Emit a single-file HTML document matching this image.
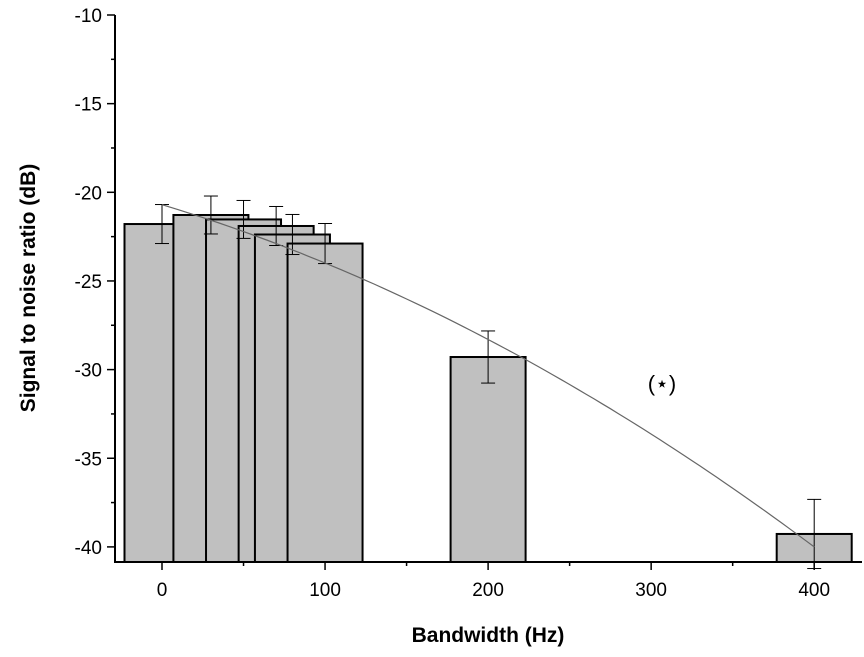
<!DOCTYPE html>
<html><head><meta charset="utf-8"><style>
body{margin:0;background:#fff}
text{font-family:"Liberation Sans","DejaVu Sans",sans-serif}
</style></head><body>
<svg id="chart" width="864" height="652" xmlns="http://www.w3.org/2000/svg"></svg>
<script>
const categories=[0,30,50,70,80,100,200,400];
const snrValues=[-21.79,-21.28,-21.53,-21.9,-22.38,-22.89,-29.29,-39.27];
const errValues=[1.1,1.07,1.07,1.1,1.13,1.13,1.47,1.95];
const yTicks=[-10,-15,-20,-25,-30,-35,-40];
const xTicks=[0,100,200,300,400];
const fitCoef=[-20.7,-0.02775,-0.00005125];
const NS='http://www.w3.org/2000/svg';
const svg=document.getElementById('chart');
const X0=115,X1=862,Y0=15,Y1=562;
const xs=v=>162+(v-0)*1.6305;
const ys=v=>15+(-10-v)*17.73;
const barW=46*1.6305;
function mk(t,a,p){const e=document.createElementNS(NS,t);for(const k in a)e.setAttribute(k,a[k]);(p||svg).appendChild(e);return e;}
const gB=mk('g',{});
categories.forEach((c,i)=>{
 const r=mk('rect',{x:xs(c)-barW/2,y:ys(snrValues[i]),width:barW,height:Y1-ys(snrValues[i]),fill:'#c0c0c0',stroke:'#000','stroke-width':2},gB);
 
 
});
const gE=mk('g',{stroke:'#000','stroke-width':1});

categories.forEach((c,i)=>{
 const x=xs(c),t=ys(snrValues[i]+errValues[i]),b=ys(snrValues[i]-errValues[i]);
 mk('line',{x1:x,x2:x,y1:t,y2:b},gE);mk('line',{x1:x-7,x2:x+7,y1:t,y2:t},gE);mk('line',{x1:x-7,x2:x+7,y1:b,y2:b},gE);
});
let d='';for(let h=0;h<=400;h+=5){const v=fitCoef[0]+fitCoef[1]*h+fitCoef[2]*h*h;d+=(h?'L':'M')+xs(h).toFixed(1)+','+ys(v).toFixed(1);}
const fit=mk('path',{d:d,fill:'none',stroke:'#666','stroke-width':1.2});

const ax=mk('path',{d:`M${X0},${Y0}V${Y1}H${X1}`,fill:'none',stroke:'#000','stroke-width':2});

yTicks.forEach(v=>{const y=ys(v);mk('line',{x1:X0-8,x2:X0,y1:y,y2:y,stroke:'#000','stroke-width':1.5});
 const t=mk('text',{x:X0-13,y:y+7,'text-anchor':'end','font-size':19});t.textContent=v;
 
 const m=ys(v-2.5);if(m<Y1)mk('line',{x1:X0-4,x2:X0,y1:m,y2:m,stroke:'#000','stroke-width':1.5});});
xTicks.forEach(v=>{const x=xs(v);mk('line',{x1:x,x2:x,y1:Y1,y2:Y1+8,stroke:'#000','stroke-width':1.5});
 const t=mk('text',{x:x,y:Y1+34,'text-anchor':'middle','font-size':19});t.textContent=v;
 
 const m=xs(v+50);if(m<X1)mk('line',{x1:m,x2:m,y1:Y1,y2:Y1+4,stroke:'#000','stroke-width':1.5});});
const xt=mk('text',{x:488,y:642,'text-anchor':'middle','font-size':21,'font-weight':'bold'});xt.textContent='Bandwidth (Hz)';

const yt=mk('text',{x:0,y:0,'text-anchor':'middle','font-size':21,'font-weight':'bold',transform:'translate(35,288) rotate(-90)'});yt.textContent='Signal to noise ratio (dB)';

const an=mk('text',{x:662,y:391,'text-anchor':'middle','font-size':22});an.textContent='(⋆)';

</script>
</body></html>
